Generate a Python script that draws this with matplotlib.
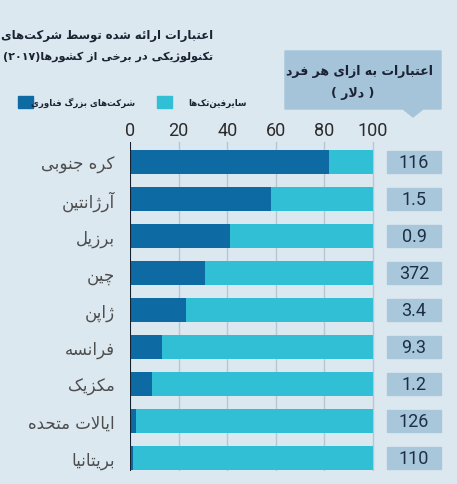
import re

import matplotlib
matplotlib.use("Agg")
import matplotlib.pyplot as plt
from matplotlib.patches import Polygon, Rectangle

# data
countries = ["کره جنوبی", "آرژانتین", "برزیل", "چین", "ژاپن",
             "فرانسه", "مکزیک", "ایالات متحده", "بریتانیا"]
bigtech_share = [82, 58, 41, 31, 23, 13, 9, 2.5, 1.2]
fintech_share = [18, 42, 59, 69, 77, 87, 91, 97.5, 98.8]
credit_per_capita = [116, 1.5, 0.9, 372, 3.4, 9.3, 1.2, 126, 110]
xticks = [0, 20, 40, 60, 80, 100]

title_lines = ["اعتبارات ارائه شده توسط شرکت‌های",
               "تکنولوژیکی در برخی از کشورها(۲۰۱۷)"]
legend_bigtech = "شرکت‌های بزرگ فناوری"
legend_fintech = "سایرفین‌تک‌ها"
header_lines = ["اعتبارات به ازای هر فرد", "( دلار )"]

BG = "#dce8f0"
DARK = "#0d6aa3"
LIGHT = "#31bfd6"
BOX = "#a9c7db"
HEADER = "#a5c4da"
INK = "#1b2233"

# --- minimal Persian shaping (matplotlib has no complex text layout) ---
DUAL = {"ب": 0xFE8F, "ت": 0xFE95, "ث": 0xFE99, "ج": 0xFE9D, "ح": 0xFEA1,
        "خ": 0xFEA5, "س": 0xFEB1, "ش": 0xFEB5, "ص": 0xFEB9, "ض": 0xFEBD,
        "ط": 0xFEC1, "ظ": 0xFEC5, "ع": 0xFEC9, "غ": 0xFECD, "ف": 0xFED1,
        "ق": 0xFED5, "ل": 0xFEDD, "م": 0xFEE1, "ن": 0xFEE5, "ه": 0xFEE9,
        "ي": 0xFEF1, "ئ": 0xFE89, "پ": 0xFB56, "چ": 0xFB7A, "ک": 0xFB8E,
        "گ": 0xFB92, "ی": 0xFBFC}
RIGHT = {"ا": 0xFE8D, "آ": 0xFE81, "د": 0xFEA9, "ذ": 0xFEAB, "ر": 0xFEAD,
         "ز": 0xFEAF, "ژ": 0xFB8A, "و": 0xFEED}
LAM_ALEF = {"ا": 0xFEFB, "آ": 0xFEF5}


def shape(text):
    chars = list(text)
    n = len(chars)
    out = []
    i = 0
    while i < n:
        c = chars[i]
        prev = chars[i - 1] if i > 0 else ""
        link_prev = prev in DUAL and (c in DUAL or c in RIGHT)
        if c == "ل" and i + 1 < n and chars[i + 1] in LAM_ALEF:
            out.append(chr(LAM_ALEF[chars[i + 1]] + (1 if link_prev else 0)))
            i += 2
            continue
        if c == "\u200c":
            i += 1
            continue
        if c in DUAL or c in RIGHT:
            nxt = chars[i + 1] if i + 1 < n else ""
            link_next = c in DUAL and (nxt in DUAL or nxt in RIGHT)
            base = DUAL.get(c, RIGHT.get(c))
            if link_prev and link_next:
                off = 3
            elif link_prev:
                off = 1
            elif link_next:
                off = 2
            else:
                off = 0
            out.append(chr(base + off))
        else:
            out.append(c)
        i += 1
    return "".join(out)


def rtl(text):
    s = shape(text)[::-1]
    s = re.sub(r"[0-9۰-۹.]+", lambda m: m.group(0)[::-1], s)
    return s.translate(str.maketrans("()", ")("))


FA = ["DejaVu Sans"]
NUM = ["Roboto", "DejaVu Sans"]

W, H = 457, 485
fig = plt.figure(figsize=(W / 100, H / 100), dpi=100, facecolor=BG)


def fx(px):
    return px / W


def fy(py):
    return 1 - py / H


# main bar axes: x=0 at px 130, x=100 at px 373
ax = fig.add_axes([fx(130), fy(472), fx(441) - fx(130), fy(143) - fy(472)])
ax.set_facecolor("none")
ax.set_xlim(0, 128)
ax.set_ylim(8.35, -0.54)
ypos = list(range(len(countries)))

for x in xticks[1:]:
    ax.axvline(x, color="#b7c6d2", lw=1, zorder=1)
ax.axvline(0, color="#15202e", lw=1.5, zorder=4)

ax.barh(ypos, bigtech_share, height=0.65, color=DARK, zorder=3)
ax.barh(ypos, fintech_share, left=bigtech_share, height=0.65, color=LIGHT, zorder=3)

for sp in ax.spines.values():
    sp.set_visible(False)
ax.xaxis.tick_top()
ax.set_xticks(xticks)
ax.set_xticklabels([str(t) for t in xticks], family=NUM, fontsize=13, color="#2b2b2b")
ax.tick_params(axis="x", length=0, pad=2)
ax.set_yticks(ypos)
ax.set_yticklabels([rtl(c) for c in countries], family=FA, fontsize=12, color="#4d4d4d")
ax.tick_params(axis="y", length=0, pad=11)

# per-capita value boxes
for y, v in zip(ypos, credit_per_capita):
    ax.add_patch(Rectangle((105.8, y - 0.29), 22.2, 0.58, color=BOX, zorder=2,
                           clip_on=False))
    ax.text(116.9, y, f"{v:g}", ha="center", va="center", family=NUM,
            fontsize=13, color="#1d2f45", zorder=5)

# header box with pointer
pts = [(285, 52), (441, 52), (441, 110), (423, 110), (413, 118), (403, 110), (285, 110)]
fig.add_artist(Polygon([(fx(a), fy(b)) for a, b in pts], closed=True,
                       transform=fig.transFigure, color=HEADER))
fig.text(fx(359), fy(71), rtl(header_lines[0]), ha="center", va="center",
         family=FA, fontsize=9, fontweight="bold", color=INK)
fig.text(fx(353), fy(94), rtl(header_lines[1]), ha="center", va="center",
         family=FA, fontsize=9, fontweight="bold", color=INK)

# title
fig.text(fx(213), fy(36), rtl(title_lines[0]), ha="right", va="center",
         family=FA, fontsize=8.4, fontweight="bold", color=INK)
fig.text(fx(213), fy(57), rtl(title_lines[1]), ha="right", va="center",
         family=FA, fontsize=8, fontweight="bold", color=INK)

# legend
fig.add_artist(Rectangle((fx(18), fy(109)), fx(15), fy(97) - fy(109),
                         transform=fig.transFigure, color=DARK))
fig.text(fx(135), fy(103), rtl(legend_bigtech), ha="right", va="center",
         family=FA, fontsize=6.2, fontweight="bold", color=INK)
fig.add_artist(Rectangle((fx(157), fy(109)), fx(15), fy(97) - fy(109),
                         transform=fig.transFigure, color=LIGHT))
fig.text(fx(247), fy(103), rtl(legend_fintech), ha="right", va="center",
         family=FA, fontsize=6.2, fontweight="bold", color=INK)

fig.savefig("out.png", dpi=100, facecolor=BG)
